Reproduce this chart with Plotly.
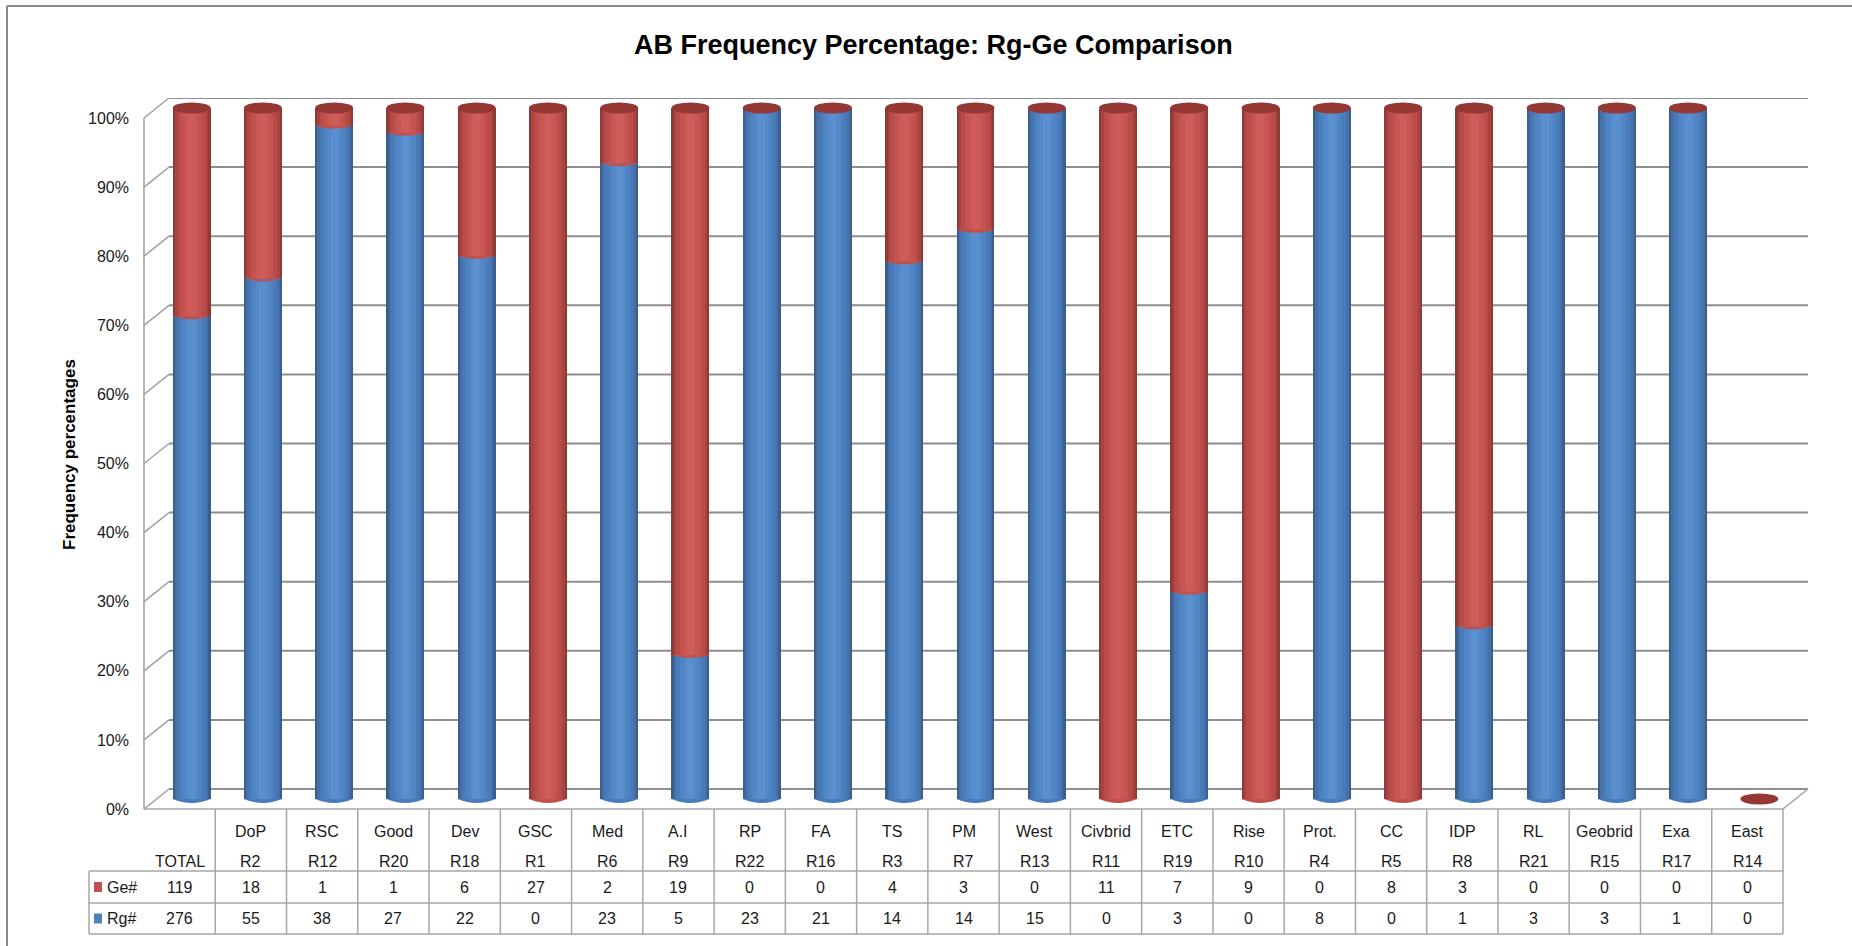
import plotly.graph_objects as go

# ---------------- data ----------------
names = ["", "DoP", "RSC", "Good", "Dev", "GSC", "Med", "A.I", "RP", "FA", "TS", "PM",
         "West", "Civbrid", "ETC", "Rise", "Prot.", "CC", "IDP", "RL", "Geobrid", "Exa", "East"]
codes = ["TOTAL", "R2", "R12", "R20", "R18", "R1", "R6", "R9", "R22", "R16", "R3", "R7",
         "R13", "R11", "R19", "R10", "R4", "R5", "R8", "R21", "R15", "R17", "R14"]
ge_counts = [119, 18, 1, 1, 6, 27, 2, 19, 0, 0, 4, 3, 0, 11, 7, 9, 0, 8, 3, 0, 0, 0, 0]
rg_counts = [276, 55, 38, 27, 22, 0, 23, 5, 23, 21, 14, 14, 15, 0, 3, 0, 8, 0, 1, 3, 3, 1, 0]
y_ticks = [0, 10, 20, 30, 40, 50, 60, 70, 80, 90, 100]

title_text = "AB Frequency Percentage: Rg-Ge Comparison"
y_title = "Frequency percentages"
series_names = ["Ge#", "Rg#"]

# 100% stacked shares
totals = [g + r for g, r in zip(ge_counts, rg_counts)]
rg_pct = [100.0 * r / t if t else 0.0 for r, t in zip(rg_counts, totals)]
ge_pct = [100.0 * g / t if t else 0.0 for g, t in zip(ge_counts, totals)]

# ---------------- geometry / style ----------------
W, H = 1852, 946
MID_X0, MID_X1 = 156, 1795      # mid (bar) plane horizontal extent, px
Y0_PX, Y100_PX = 799, 108       # mid plane 0% and 100%, px from top
FDX, FDY = -12, -10             # front plane offset (px, y up positive)
BDX, BDY = 13, 10               # back plane offset
PAD = 10                        # extra px above/below so caps are not clipped
BAR_W = 0.533
ELL_W, ELL_H = 19, 5.5

FONT = "Liberation Sans, Arial, sans-serif"
GRID_C = "#8E8E8E"
TABLE_C = "#A6A6A6"
TXT_C = "#1A1A1A"

def px(x):
    return x / W

def py(y):
    return 1 - y / H

PPU = (Y0_PX - Y100_PX) / 100.0
Y_RANGE = [-PAD / PPU, 100 + PAD / PPU]

blue_layers = [(1.00, "#3A5F8F"), (0.88, "#4570A8"), (0.74, "#4A7BB9"),
               (0.55, "#4F84C4"), (0.35, "#5589CA"), (0.18, "#5A8FD0")]
red_layers = [(1.00, "#8E3B38"), (0.88, "#A9443F"), (0.74, "#B94C48"),
              (0.55, "#C4524E"), (0.35, "#C95753"), (0.18, "#CE5C58")]

x_idx = list(range(len(names)))

fig = go.Figure()
for frac, col in blue_layers:
    fig.add_trace(go.Bar(x=x_idx, y=rg_pct, base=[0] * len(x_idx), width=BAR_W * frac,
                         marker=dict(color=col, line=dict(width=0)), name=series_names[1],
                         showlegend=False, hoverinfo="skip"))
for frac, col in red_layers:
    fig.add_trace(go.Bar(x=x_idx, y=ge_pct, base=rg_pct, width=BAR_W * frac,
                         marker=dict(color=col, line=dict(width=0)), name=series_names[0],
                         showlegend=False, hoverinfo="skip"))

shapes = []

# chart border (top & left visible)
shapes.append(dict(type="line", xref="paper", yref="paper", x0=px(7), x1=1.01, y0=py(6), y1=py(6),
                   line=dict(color="#8A8A8A", width=2)))
shapes.append(dict(type="line", xref="paper", yref="paper", x0=px(7), x1=px(7), y0=py(6), y1=-0.01,
                   line=dict(color="#8A8A8A", width=2)))

# back wall gridlines and left-side diagonals
for v in y_ticks:
    shapes.append(dict(type="line", layer="below", xref="paper", yref="y", ysizemode="pixel", yanchor=v,
                       x0=px(MID_X0 + BDX), x1=px(MID_X1 + BDX), y0=BDY, y1=BDY,
                       line=dict(color=GRID_C, width=2)))
    shapes.append(dict(type="line", layer="below", xref="paper", yref="y", ysizemode="pixel", yanchor=v,
                       x0=px(MID_X0 + FDX), x1=px(MID_X0 + BDX), y0=FDY, y1=BDY,
                       line=dict(color="#A0A0A0", width=1.5)))
# front vertical axis line
shapes.append(dict(type="line", layer="below", xref="paper", yref="paper",
                   x0=px(MID_X0 + FDX), x1=px(MID_X0 + FDX), y0=py(Y0_PX - FDY), y1=py(Y100_PX - FDY),
                   line=dict(color="#A0A0A0", width=1.5)))
# floor right diagonal
shapes.append(dict(type="line", layer="below", xref="paper", yref="y", ysizemode="pixel", yanchor=0,
                   x0=px(MID_X1 + FDX), x1=px(MID_X1 + BDX), y0=FDY, y1=BDY,
                   line=dict(color="#A0A0A0", width=1.5)))

# cylinder caps and curved joins
for i in x_idx:
    if totals[i] > 0:
        bottom_col = "#4A7BB9" if rg_counts[i] > 0 else "#BE4F4B"
        shapes.append(dict(type="path", xref="x", yref="y", xsizemode="pixel", ysizemode="pixel",
                           xanchor=i, yanchor=0,
                           path=f"M {-ELL_W},0 Q 0,-8 {ELL_W},0 Z",
                           fillcolor=bottom_col, line=dict(width=0)))
        if rg_counts[i] > 0 and ge_counts[i] > 0:
            shapes.append(dict(type="path", xref="x", yref="y", xsizemode="pixel", ysizemode="pixel",
                               xanchor=i, yanchor=rg_pct[i],
                               path=f"M {-ELL_W},0 Q 0,-6 {ELL_W},0 Z",
                               fillcolor="#C0504D", line=dict(width=0)))
        shapes.append(dict(type="circle", xref="x", yref="y", xsizemode="pixel", ysizemode="pixel",
                           xanchor=i, yanchor=100, x0=-ELL_W, x1=ELL_W, y0=-ELL_H, y1=ELL_H,
                           fillcolor="#953735", line=dict(width=0)))
    else:
        shapes.append(dict(type="circle", xref="x", yref="y", xsizemode="pixel", ysizemode="pixel",
                           xanchor=i, yanchor=0, x0=-ELL_W, x1=ELL_W, y0=-ELL_H, y1=ELL_H,
                           fillcolor="#953735", line=dict(width=0)))

# ---------------- data table ----------------
T_TOP, T_HDR, T_GE, T_RG = 809, 871, 903, 934
LEG_X = 89
FRONT_L = MID_X0 + FDX
FRONT_R = MID_X1 + FDX
shapes.append(dict(type="line", xref="paper", yref="paper", x0=px(FRONT_L), x1=px(FRONT_R),
                   y0=py(T_TOP), y1=py(T_TOP), line=dict(color=TABLE_C, width=1.5)))
for yy in (T_HDR, T_GE, T_RG):
    shapes.append(dict(type="line", xref="paper", yref="paper", x0=px(LEG_X), x1=px(FRONT_R),
                       y0=py(yy), y1=py(yy), line=dict(color=TABLE_C, width=1.5)))
shapes.append(dict(type="line", xref="paper", yref="paper", x0=px(LEG_X), x1=px(LEG_X),
                   y0=py(T_HDR), y1=py(T_RG), line=dict(color=TABLE_C, width=1.5)))
for k in range(len(names) + 1):
    shapes.append(dict(type="line", xref="x", yref="paper", xsizemode="pixel", xanchor=k - 0.5,
                       x0=FDX, x1=FDX, y0=py(T_TOP), y1=py(T_RG), line=dict(color=TABLE_C, width=1.5)))

# legend keys
shapes.append(dict(type="rect", xref="paper", yref="paper", x0=px(94), x1=px(102),
                   y0=py((T_HDR + T_GE) / 2 - 5), y1=py((T_HDR + T_GE) / 2 + 5),
                   fillcolor="#C0504D", line=dict(width=0)))
shapes.append(dict(type="rect", xref="paper", yref="paper", x0=px(94), x1=px(102),
                   y0=py((T_GE + T_RG) / 2 - 5), y1=py((T_GE + T_RG) / 2 + 5),
                   fillcolor="#4F81BD", line=dict(width=0)))

annotations = []
TFS = 16


def ann(x, y, text, xref="x", xshift=0, xanchor="center", size=TFS, **kw):
    d = dict(x=x, y=y, xref=xref, yref="paper", xshift=xshift, text=text, showarrow=False,
             xanchor=xanchor, yanchor="middle", font=dict(family=FONT, size=size, color=TXT_C))
    d.update(kw)
    return d


for i in x_idx:
    if names[i]:
        annotations.append(ann(i, py(831), names[i], xshift=FDX))
    annotations.append(ann(i, py(861), codes[i], xshift=FDX))
    annotations.append(ann(i, py((T_HDR + T_GE) / 2), str(ge_counts[i]), xshift=FDX))
    annotations.append(ann(i, py((T_GE + T_RG) / 2), str(rg_counts[i]), xshift=FDX))
annotations.append(ann(px(105), py((T_HDR + T_GE) / 2), series_names[0], xref="paper", xanchor="left"))
annotations.append(ann(px(105), py((T_GE + T_RG) / 2), series_names[1], xref="paper", xanchor="left"))

# title & axis title
annotations.append(dict(x=px(933), y=py(45), xref="paper", yref="paper", text=f"<b>{title_text}</b>",
                        xanchor="center", yanchor="middle",
                        showarrow=False, font=dict(family=FONT, size=27, color="#000000")))
annotations.append(dict(x=px(69), y=py(455), xref="paper", yref="paper", text=f"<b>{y_title}</b>",
                        xanchor="center", yanchor="middle",
                        textangle=-90, showarrow=False,
                        font=dict(family=FONT, size=17, color="#000000")))

fig.update_layout(
    width=W, height=H,
    margin=dict(l=0, r=0, t=0, b=0, autoexpand=False),
    paper_bgcolor="white", plot_bgcolor="rgba(0,0,0,0)",
    barmode="overlay", bargap=0,
    showlegend=False,
    shapes=shapes, annotations=annotations,
    xaxis=dict(domain=[px(MID_X0), px(MID_X1)], range=[-0.5, len(names) - 0.5], automargin=False,
               showticklabels=False, showgrid=False, zeroline=False, showline=False, fixedrange=True),
    yaxis=dict(domain=[py(Y0_PX + PAD), py(Y100_PX - PAD)], range=Y_RANGE, automargin=False,
               tickvals=y_ticks, ticktext=[f"{v}%" for v in y_ticks],
               ticklabelshift=-FDY, ticklabelstandoff=26,
               showgrid=False, zeroline=False, showline=False, ticks="", fixedrange=True,
               tickfont=dict(family=FONT, size=16, color=TXT_C)),
)

fig.write_html("out.html", config={"displayModeBar": False},
               post_script="document.body.style.margin='0px';document.body.style.overflow='hidden';")
